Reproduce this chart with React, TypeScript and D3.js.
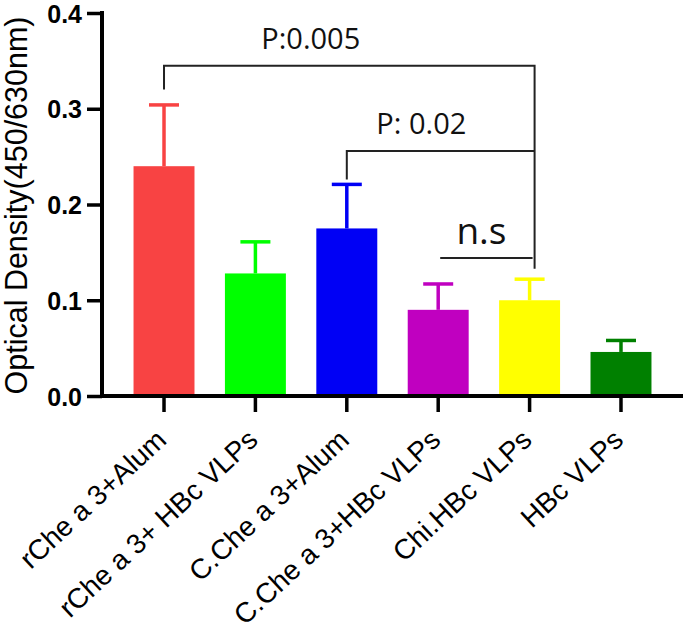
import { useEffect, useRef } from "react";
import * as d3 from "d3";

const WIDTH = 685;
const HEIGHT = 634;

// groups, means and upper error (SD)
const groups = [
  "rChe a 3+Alum",
  "rChe a 3+ HBc VLPs",
  "C.Che a 3+Alum",
  "C.Che a 3+HBc VLPs",
  "Chi.HBc VLPs",
  "HBc VLPs",
];
const means = [0.24, 0.128, 0.175, 0.09, 0.1, 0.046];
const errors = [0.064, 0.033, 0.046, 0.027, 0.022, 0.012];
const colors = ["#F84343", "#00FF00", "#0000F5", "#C000C0", "#FFFF00", "#008000"];
const yTicks = [0, 0.1, 0.2, 0.3, 0.4];

// significance brackets: from group, to group, bar level, leg bottoms, label
const brackets = [
  { from: 0, to: 4, level: 0.345, leftEnd: 0.32, rightEnd: 0.133, label: "P:0.005", at: 0.396, size: 29 },
  { from: 2, to: 4, level: 0.256, leftEnd: 0.226, rightEnd: null, label: "P: 0.02", at: 0.397, size: 29 },
  { from: 3, to: 4, level: 0.144, leftEnd: null, rightEnd: null, label: "n.s", at: 0.446, size: 37 },
];

export default function App() {
  const ref = useRef<SVGSVGElement>(null);

  useEffect(() => {
    const svg = d3.select(ref.current);
    svg.selectAll("*").remove();

    const x = d3
      .scaleBand()
      .domain(groups)
      .range([102, 683])
      .paddingInner(0.333)
      .paddingOuter(0.345);

    const y = d3.scaleLinear().domain([0, 0.4]).range([396, 13]);

    const cx = (i: number) => (x(groups[i]) as number) + x.bandwidth() / 2;
    // the right legs sit slightly right of the yellow bar centre
    const legX = (i: number, right: boolean) => cx(i) + (right ? 5 : 0);

    // bars
    svg
      .selectAll("rect.bar")
      .data(groups)
      .join("rect")
      .attr("class", "bar")
      .attr("x", (d) => x(d) as number)
      .attr("width", x.bandwidth())
      .attr("y", (_, i) => y(means[i]))
      .attr("height", (_, i) => y(0) - y(means[i]))
      .attr("fill", (_, i) => colors[i]);

    // error bars (upper only)
    const eb = svg.append("g");
    groups.forEach((g, i) => {
      const c = cx(i);
      eb.append("line")
        .attr("x1", c)
        .attr("x2", c)
        .attr("y1", y(means[i]))
        .attr("y2", y(means[i] + errors[i]))
        .attr("stroke", colors[i])
        .attr("stroke-width", 3.5);
      eb.append("line")
        .attr("x1", c - 15)
        .attr("x2", c + 15)
        .attr("y1", y(means[i] + errors[i]))
        .attr("y2", y(means[i] + errors[i]))
        .attr("stroke", colors[i])
        .attr("stroke-width", 3.5);
    });

    // y axis
    const ya = svg
      .append("g")
      .attr("transform", "translate(102,0)")
      .call(d3.axisLeft(y).tickValues(yTicks).tickSize(15).tickPadding(5).tickFormat(d3.format(".1f")));
    ya.select(".domain").attr("stroke-width", 4).attr("d", `M0,${y(0.4) - 2}V${y(0) + 2}`);
    ya.selectAll(".tick line").attr("stroke-width", 3.5);
    ya.selectAll(".tick text")
      .attr("font-family", "Liberation Sans, Arial, sans-serif")
      .attr("font-weight", "bold")
      .attr("font-size", 25)
      .attr("dy", "0.36em")
      .attr("fill", "#000");

    // x axis
    const xa = svg
      .append("g")
      .attr("transform", `translate(0,${y(0)})`)
      .call(d3.axisBottom(x).tickSize(16).tickFormat(() => ""));
    xa.select(".domain").attr("stroke-width", 4).attr("d", "M100,0H683");
    xa.selectAll(".tick line").attr("stroke-width", 3.5);

    svg
      .append("g")
      .selectAll("text")
      .data(groups)
      .join("text")
      .attr("transform", (_, i) => `translate(${cx(i) + 4},442) rotate(-43)`)
      .attr("text-anchor", "end")
      .attr("font-family", "Liberation Sans, Arial, sans-serif")
      .attr("font-size", 28)
      .attr("fill", "#000")
      .text((d) => d);

    // y axis title
    svg
      .append("text")
      .attr("transform", `translate(27,${(y(0.4) + y(0)) / 2 + 1}) rotate(-90)`)
      .attr("text-anchor", "middle")
      .attr("font-family", "Liberation Sans, Arial, sans-serif")
      .attr("font-size", 30.5)
      .attr("fill", "#000")
      .text("Optical Density(450/630nm)");

    // brackets
    const br = svg.append("g").attr("stroke", "#222").attr("stroke-width", 2).attr("fill", "none");
    brackets.forEach((b) => {
      const bare = b.leftEnd === null && b.rightEnd === null;
      const xl = bare ? cx(b.from) + 2 : legX(b.from, false);
      const x2 = legX(b.to, true) - (bare ? 2 : 0);
      let d = "";
      if (b.leftEnd !== null) d += `M${xl},${y(b.leftEnd)}V${y(b.level)}`;
      else d += `M${xl},${y(b.level)}`;
      d += `H${x2}`;
      if (b.rightEnd !== null) d += `V${y(b.rightEnd)}`;
      br.append("path").attr("d", d);

      svg
        .append("text")
        .attr("x", xl + (x2 - xl) * b.at)
        .attr("y", y(b.level) - (b.size > 30 ? 14 : 17))
        .attr("text-anchor", "middle")
        .attr("font-family", "Open Sans, sans-serif")
        .attr("font-size", b.size)
        .attr("fill", "#111")
        .text(b.label);
    });
  }, []);

  return (
    <svg
      ref={ref}
      width={WIDTH}
      height={HEIGHT}
      style={{ position: "absolute", left: 0, top: 0, background: "#fff" }}
    />
  );
}
